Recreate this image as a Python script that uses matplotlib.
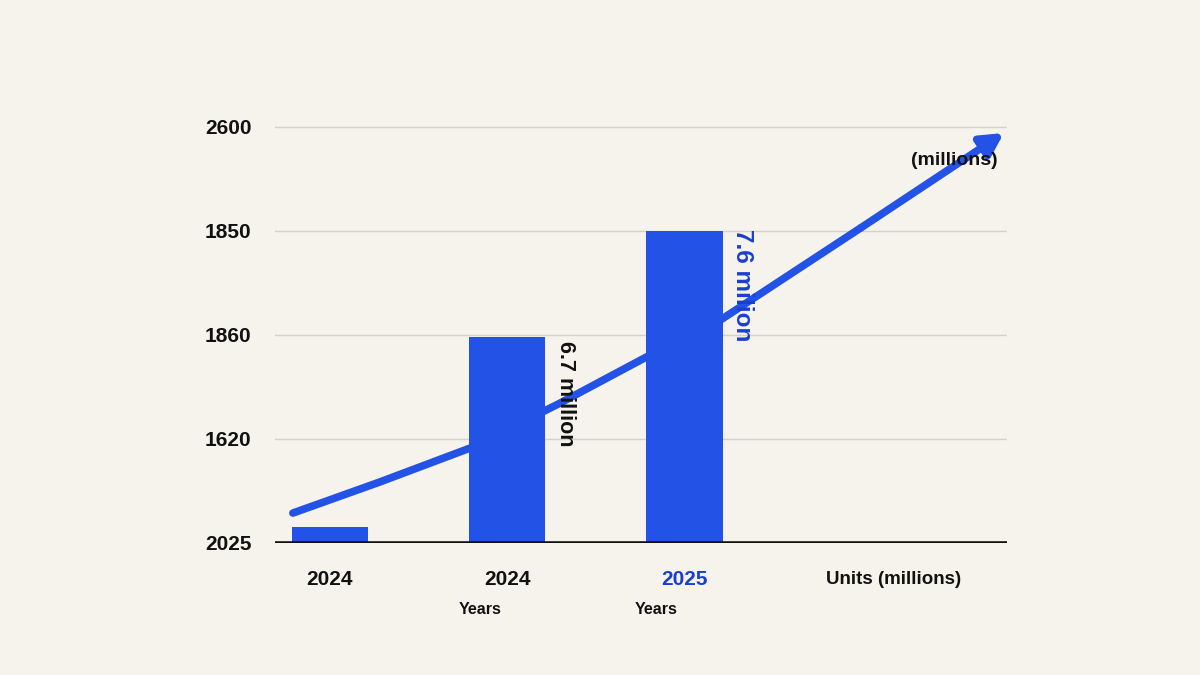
import numpy as np
import matplotlib.pyplot as plt

plt.rcParams['font.family'] = ['Liberation Sans', 'DejaVu Sans']

# data
categories = ['2024', '2024', '2025', 'Units (millions)']
bar_values = [0.15, 1.98, 3.0]
ytick_labels = ['2025', '1620', '1860', '1850', '2600']
bar_labels = ['', '6.7 million', '7.6 milion']

# trend line
trend_x = [-0.209, 0.282, 0.791, 1.288, 1.785, 2.203, 2.994, 3.802]
trend_y = [0.288, 0.587, 0.913, 1.336, 1.788, 2.144, 3.029, 3.942]

bg = '#f5f3ec'
blue = '#2352e6'

fig = plt.figure(figsize=(12, 6.75), dpi=100)
fig.patch.set_facecolor(bg)
ax = fig.add_axes([275 / 1200, 1 - 543 / 675, (1007 - 275) / 1200, (543 - 110) / 675])
ax.set_facecolor(bg)

x = np.arange(len(bar_values))
ax.bar(x, bar_values, width=0.43, color=blue, zorder=3)

ax.set_xlim(-0.31, 3.82)
ax.set_ylim(0, 433 / 104)

# grid
for yv in range(1, 5):
    ax.axhline(yv, color='#d3d1cb', lw=1.0, zorder=1)
ax.axhline(0, color='#111111', lw=2.6, zorder=4)

for s in ax.spines.values():
    s.set_visible(False)

ax.set_yticks(range(5))
ax.set_yticklabels(ytick_labels, fontsize=15, fontweight='bold', color='#111111')
ax.tick_params(axis='y', length=0, pad=17)
ax.set_xticks([])

# x labels
xpos = [0, 1, 2, 3.18]
for xp, lab in zip(xpos, categories):
    col = '#1a3fd0' if lab == '2025' else '#111111'
    fs = 13.5 if lab.startswith('Units') else 15
    ax.text(xp, -0.35, lab, ha='center', va='center', fontsize=fs,
            fontweight='bold', color=col, clip_on=False)
for xp in [0.85, 1.84]:
    ax.text(xp, -0.64, 'Years', ha='center', va='center', fontsize=11.5,
            fontweight='bold', color='#111111', clip_on=False)

# trend arrow
ax.plot(trend_x[:-1], trend_y[:-1], color=blue, lw=5.5, solid_capstyle='round',
        solid_joinstyle='round', zorder=5)
ax.annotate('', xy=(trend_x[-1], trend_y[-1]), xytext=(trend_x[-2], trend_y[-2]),
            arrowprops=dict(arrowstyle='-|>,head_length=1.3,head_width=0.7',
                            color=blue, lw=5.5, shrinkA=0, shrinkB=0),
            zorder=5, annotation_clip=False)

# bar labels
ax.text(1.33, bar_values[1] - 0.04, bar_labels[1], rotation=-90, ha='center', va='top',
        fontsize=15.5, fontweight='bold', color='#111111', zorder=6)
ax.text(2.33, bar_values[2] + 0.02, bar_labels[2], rotation=-90, ha='center', va='top',
        fontsize=17.5, fontweight='bold', color='#1a3fd0', zorder=6)

ax.text(3.52, 3.68, '(millions)', ha='center', va='center', fontsize=14,
        fontweight='bold', color='#111111', zorder=6)

fig.savefig('out.png', dpi=100, facecolor=bg)
